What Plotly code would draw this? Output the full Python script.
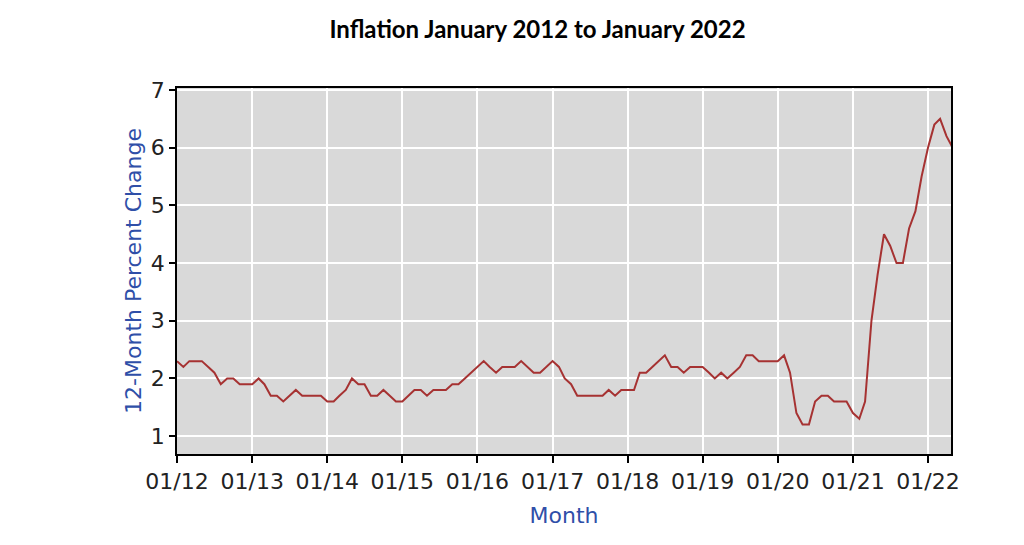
import pandas as pd
import plotly.graph_objects as go

# 12-month percent change, monthly, Jan 2012 .. May 2022
values_2012 = [2.3, 2.2, 2.3, 2.3, 2.3, 2.2, 2.1, 1.9, 2.0, 2.0, 1.9, 1.9]
values_2013 = [1.9, 2.0, 1.9, 1.7, 1.7, 1.6, 1.7, 1.8, 1.7, 1.7, 1.7, 1.7]
values_2014 = [1.6, 1.6, 1.7, 1.8, 2.0, 1.9, 1.9, 1.7, 1.7, 1.8, 1.7, 1.6]
values_2015 = [1.6, 1.7, 1.8, 1.8, 1.7, 1.8, 1.8, 1.8, 1.9, 1.9, 2.0, 2.1]
values_2016 = [2.2, 2.3, 2.2, 2.1, 2.2, 2.2, 2.2, 2.3, 2.2, 2.1, 2.1, 2.2]
values_2017 = [2.3, 2.2, 2.0, 1.9, 1.7, 1.7, 1.7, 1.7, 1.7, 1.8, 1.7, 1.8]
values_2018 = [1.8, 1.8, 2.1, 2.1, 2.2, 2.3, 2.4, 2.2, 2.2, 2.1, 2.2, 2.2]
values_2019 = [2.2, 2.1, 2.0, 2.1, 2.0, 2.1, 2.2, 2.4, 2.4, 2.3, 2.3, 2.3]
values_2020 = [2.3, 2.4, 2.1, 1.4, 1.2, 1.2, 1.6, 1.7, 1.7, 1.6, 1.6, 1.6]
values_2021 = [1.4, 1.3, 1.6, 3.0, 3.8, 4.5, 4.3, 4.0, 4.0, 4.6, 4.9, 5.5]
values_2022 = [6.0, 6.4, 6.5, 6.2, 6.0]

values = (values_2012 + values_2013 + values_2014 + values_2015 + values_2016 +
          values_2017 + values_2018 + values_2019 + values_2020 + values_2021 + values_2022)
months = pd.date_range("2012-01-01", periods=len(values), freq="MS")

tick_dates = pd.date_range("2012-01-01", "2022-01-01", freq="YS")
tick_labels = ["01/12", "01/13", "01/14", "01/15", "01/16", "01/17",
               "01/18", "01/19", "01/20", "01/21", "01/22"]
y_ticks = [1, 2, 3, 4, 5, 6, 7]

fig = go.Figure()
fig.add_trace(go.Scatter(
    x=months, y=values, mode="lines",
    line=dict(color="#a63232", width=2),
    showlegend=False,
))

tick_font = dict(family="DejaVu Sans", size=22, color="#222222")
title_blue = "#2f4fa8"

W, H = 1016, 537
fig.update_layout(
    width=W, height=H,
    margin=dict(l=169, r=73, t=80, b=91),
    paper_bgcolor="white",
    plot_bgcolor="#d9d9d9",
    title=dict(
        text="<b>Inflation January 2012 to January 2022</b>",
        font=dict(family="Lato", size=24, color="black"),
        xref="container", yref="container",
        x=529.5 / W, xanchor="center",
        y=1 - 22 / H, yanchor="middle",
    ),
)

fig.update_xaxes(
    range=["2012-01-01", "2022-04-23"],
    tickvals=tick_dates, ticktext=tick_labels,
    tickfont=tick_font,
    ticks="outside", ticklen=7, tickwidth=1.5, tickcolor="black",
    showline=True, linecolor="black", linewidth=1.5, mirror=True,
    showgrid=True, gridcolor="white", gridwidth=1.5,
    zeroline=False,
    title=dict(text="Month", font=dict(family="DejaVu Sans", size=22, color=title_blue),
               standoff=14),
)
fig.update_yaxes(
    range=[0.69, 7.035],
    tickvals=y_ticks,
    tickfont=tick_font,
    ticks="outside", ticklen=6, tickwidth=1.5, tickcolor="black",
    showline=True, linecolor="black", linewidth=1.5, mirror=True,
    showgrid=True, gridcolor="white", gridwidth=1.5,
    zeroline=False,
    title=dict(text="12-Month Percent Change",
               font=dict(family="DejaVu Sans", size=22, color=title_blue),
               standoff=3),
)

fig.write_html("out.html")
